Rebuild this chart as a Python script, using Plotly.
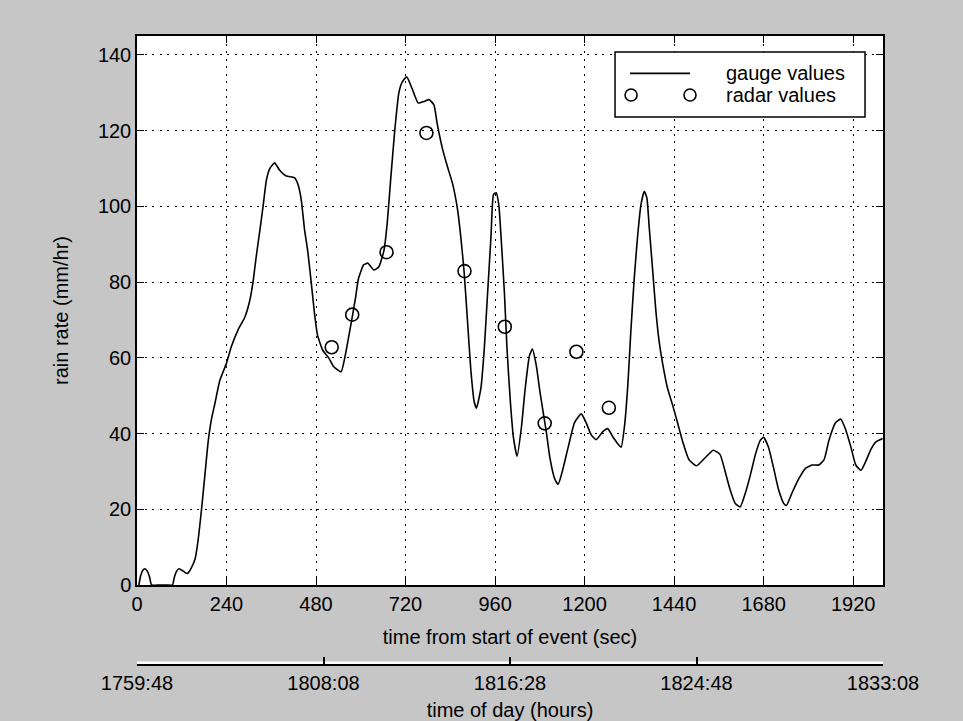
import plotly.graph_objects as go

# ---- data ----
gauge_t = [5, 10, 15, 21, 28, 34, 39, 60, 80, 95, 100, 106, 113, 122, 130, 136, 146, 156, 164, 173,
           182, 191, 200, 209, 222, 240, 253, 271, 289, 302, 311, 320, 329, 338, 347, 356, 369, 382,
           400, 422, 431, 440, 449, 458, 467, 476, 484, 498, 514, 527, 547, 558, 572, 585, 594, 608,
           619, 635, 648, 662, 671, 680, 691, 702, 711, 723, 738, 754, 769, 783, 796, 805, 819, 832,
           846, 859, 868, 877, 886, 895, 904, 910, 922, 931, 940, 949, 956, 963, 970, 976, 985, 992,
           1001, 1009, 1019, 1031, 1040, 1052, 1060, 1071, 1080, 1089, 1098, 1107, 1120, 1129, 1140,
           1156, 1173, 1191, 1204, 1218, 1231, 1249, 1262, 1276, 1289, 1298, 1307, 1316, 1324, 1333,
           1342, 1351, 1360, 1367, 1373, 1382, 1391, 1400, 1409, 1422, 1436, 1449, 1462, 1480, 1500,
           1523, 1545, 1563, 1577, 1590, 1604, 1617, 1631, 1644, 1658, 1671, 1680, 1693, 1707, 1720,
           1734, 1741, 1756, 1774, 1792, 1810, 1828, 1842, 1855, 1873, 1887, 1900, 1914, 1927, 1941,
           1954, 1968, 1981, 1999]
gauge_rate = [0, 2.5, 3.8, 4.3, 3.6, 2.0, 0, 0, 0, 0, 2.0, 3.6, 4.3, 3.8, 3.2, 3.1, 4.6, 7.0, 12, 20,
              29, 38, 44, 48, 54, 58.6, 63, 67.4, 70.7, 75, 80, 87, 93.4, 100, 107, 110, 111.5, 109.6,
              108, 107.6, 106, 102, 94, 88, 80, 71.6, 66, 62, 60, 57.7, 56.3, 60.5, 68, 75.3, 81, 84.6,
              85, 83.2, 84, 88.3, 95.7, 107, 120, 130, 132.8, 134.2, 131, 127.3, 127.7, 128.2, 126.8,
              121.7, 115.2, 110.6, 106, 99.4, 92, 82.7, 69.8, 56.8, 48.4, 46.7, 52, 62.3, 77.2, 92,
              103.2, 103.6, 100.4, 92, 77.2, 62.3, 48.4, 39.1, 34, 42, 51.2, 60.5, 62.3, 57.7, 51.2,
              45.6, 40, 33.6, 28, 26.6, 29.9, 36.4, 42.9, 45.2, 42.9, 39.6, 38.4, 40.5, 41.3, 39.1,
              37.3, 36.4, 42, 53, 67, 80.9, 92, 100.4, 104, 102.2, 94.8, 83.7, 72.5, 64.2, 58.6, 52.1,
              47.5, 42.9, 38.2, 33.1, 31.5, 33.6, 35.6, 34.5, 29.9, 25.2, 21.5, 20.6, 24.3, 28.9, 34.5,
              38.2, 39, 36.4, 30.8, 25.2, 21.5, 21, 24.3, 28, 30.8, 31.7, 31.7, 33.1, 38.2, 42.9, 43.8,
              41, 36.4, 31.7, 30.3, 32.7, 35.9, 37.8, 38.7]

radar_t = [522, 577, 669, 776, 878, 986, 1093, 1178, 1265]
radar_rate = [62.8, 71.4, 87.9, 119.4, 82.9, 68.2, 42.7, 61.6, 46.8]

x_ticks = [0, 240, 480, 720, 960, 1200, 1440, 1680, 1920]
y_ticks = [0, 20, 40, 60, 80, 100, 120, 140]
tod_ticks = [0, 500, 1000, 1500, 2000]
tod_labels = ["1759:48", "1808:08", "1816:28", "1824:48", "1833:08"]

FONT = "Arial, 'Liberation Sans', sans-serif"

fig = go.Figure()
fig.add_trace(go.Scatter(x=gauge_t, y=gauge_rate, mode="lines", name="gauge values",
                         line=dict(color="black", width=1.6, shape="spline", smoothing=0.5),
                         showlegend=False))
fig.add_trace(go.Scatter(x=radar_t, y=radar_rate, mode="markers", name="radar values",
                         marker=dict(symbol="circle-open", size=13, color="black",
                                     line=dict(width=1.6, color="black")), showlegend=False))
# carrier trace for the time-of-day axis (its own thin subplot at the bottom)
fig.add_trace(go.Scatter(x=[], y=[], xaxis="x2", yaxis="y2", showlegend=False, hoverinfo="skip"))

axis_common = dict(showline=True, linecolor="black", linewidth=1.5, mirror="ticks",
                   ticks="inside", ticklen=7, tickcolor="black", tickwidth=1,
                   showgrid=True, gridcolor="black", gridwidth=1, griddash="2px,5.5px",
                   zeroline=False, automargin=False,
                   tickfont=dict(family=FONT, size=20, color="black"))

fig.update_layout(
    width=963, height=721,
    margin=dict(l=137, r=80, t=36, b=57),
    paper_bgcolor="#c6c6c6",
    plot_bgcolor="white",
    xaxis=dict(range=[0, 2000], tickvals=x_ticks, anchor="y", **axis_common,
               title=dict(text="time from start of event (sec)",
                          font=dict(family=FONT, size=20, color="black"), standoff=16)),
    yaxis=dict(range=[0, 145], tickvals=y_ticks, domain=[0.1258, 1], anchor="x", **axis_common,
               title=dict(text="rain rate (mm/hr)",
                          font=dict(family=FONT, size=20, color="black"), standoff=24)),
    yaxis2=dict(domain=[0, 0.004], visible=False, range=[0, 1], anchor="x2"),
    xaxis2=dict(range=[0, 2000], tickvals=tod_ticks, ticktext=tod_labels,
                anchor="y2", side="bottom", automargin=False,
                showline=True, linecolor="black", linewidth=1.5,
                ticks="inside", ticklen=7, tickcolor="black", tickwidth=1.5,
                showgrid=False, zeroline=False,
                tickfont=dict(family=FONT, size=20, color="black"),
                title=dict(text="time of day (hours)",
                           font=dict(family=FONT, size=20, color="black"), standoff=12)),
    showlegend=False,
)

# ---- MATLAB-style legend box ----
fig.add_shape(type="rect", xref="x domain", yref="y domain",
              x0=0.6408, x1=0.9759, y0=0.8525, y1=0.9709,
              line=dict(color="black", width=1.5), fillcolor="white", layer="above")
fig.add_shape(type="line", xref="x domain", yref="y domain",
              x0=0.6609, x1=0.7413, y0=0.932, y1=0.932,
              line=dict(color="black", width=1.6), layer="above")
for xa in (0.6623, 0.7413):
    fig.add_shape(type="circle", xref="x domain", yref="y domain",
                  xsizemode="pixel", ysizemode="pixel", xanchor=xa, yanchor=0.8925,
                  x0=-6, x1=6, y0=-6, y1=6,
                  line=dict(color="black", width=1.6), layer="above")
for txt, yy in (("gauge values", 0.932), ("radar values", 0.8925)):
    fig.add_annotation(text=txt, xref="x domain", yref="y domain", x=0.787, y=yy,
                       xanchor="left", yanchor="middle", showarrow=False,
                       font=dict(family=FONT, size=20, color="black"))

fig.write_html("out.html")
